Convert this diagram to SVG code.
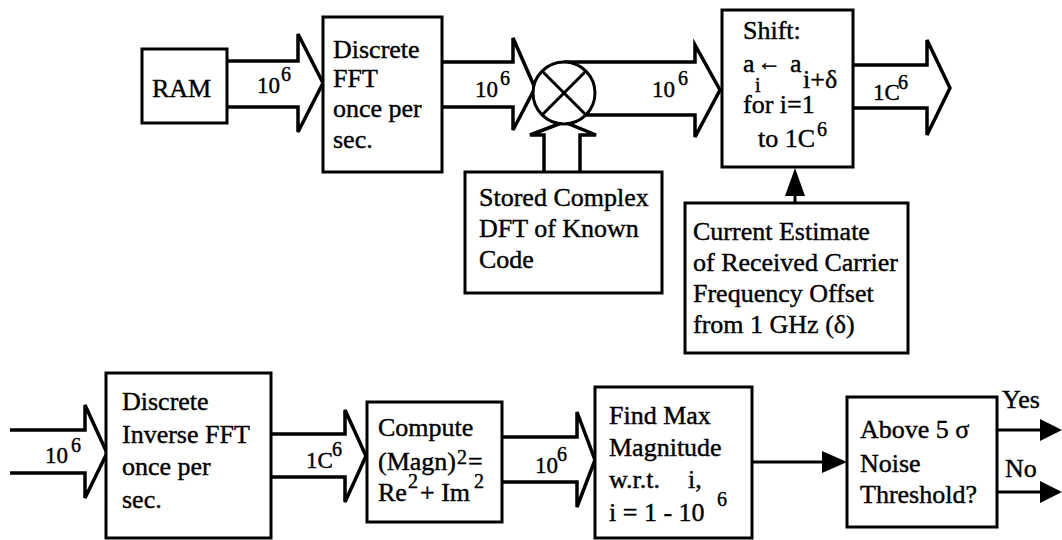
<svg xmlns="http://www.w3.org/2000/svg" width="1062" height="540" viewBox="0 0 1062 540">
<style>
.box{fill:#fff;stroke:#000;stroke-width:3}
.blk{fill:#fff;stroke:#000;stroke-width:3.5;stroke-linejoin:miter}
.ln{fill:none;stroke:#000;stroke-width:3}
.hd{fill:#000;stroke:none}
text{font-family:"Liberation Serif","Times New Roman",serif;font-size:26px;fill:#000;stroke:#000;stroke-width:0.4}
.lbl{font-size:23px}
.sup{font-size:20px}
</style>
<rect width="1062" height="540" fill="#fff"/>
<g id="connectors">
<path class="blk" d="M227,61 H298 V34 L323,83 L298,132 V107 H227"/>
<path class="blk" d="M442,62 H513 V38 L535,88 L513,130 V107 H442"/>
<path class="blk" d="M564,62 H695 V45 L720,90 L695,137 V115 H564"/>
<path class="blk" d="M544,172 V135 H530 L564,122 L596,135 H580 V172"/>
<path class="blk" d="M853,65 H927 V40 L950,88 L927,135 V108 H853"/>
<line class="ln" x1="795" y1="203" x2="795" y2="190"/>
<polygon class="hd" points="785,196 805,196 795,168"/>
<path class="blk" d="M10,430 H85 V405 L107,453 L85,498 V473 H10"/>
<path class="blk" d="M270,434 H345 V410 L366,456 L345,502 V477 H270"/>
<path class="blk" d="M502,437 H577 V412 L595,460 L577,507 V482 H502"/>
<line class="ln" x1="752" y1="462" x2="825" y2="462"/>
<polygon class="hd" points="822,451 822,473 847,462"/>
<line class="ln" x1="997" y1="430" x2="1043" y2="430"/>
<polygon class="hd" points="1040,419 1040,441 1062,430"/>
<line class="ln" x1="997" y1="492" x2="1043" y2="492"/>
<polygon class="hd" points="1040,481 1040,503 1062,492"/>
<text class="lbl" x="257" y="93">10</text><text class="sup" x="281" y="81">6</text>
<text class="lbl" x="475" y="97">10</text><text class="sup" x="500" y="85">6</text>
<text class="lbl" x="652" y="97">10</text><text class="sup" x="678" y="85">6</text>
<text class="lbl" x="873" y="100">1C</text><text class="sup" x="898" y="89">6</text>
<text class="lbl" x="45" y="463">10</text><text class="sup" x="71" y="452">6</text>
<text class="lbl" x="306" y="468">1C</text><text class="sup" x="332" y="456">6</text>
<text class="lbl" x="535" y="473">10</text><text class="sup" x="557" y="461">6</text>
<text x="1002" y="408">Yes</text>
<text x="1005" y="477">No</text>
</g>
<g id="ram">
<rect class="box" x="142" y="49" width="85" height="74"/>
<text x="152" y="97">RAM</text>
</g>
<g id="fft">
<rect class="box" x="323" y="17" width="119" height="155"/>
<text x="333" y="58">Discrete</text>
<text x="333" y="87">FFT</text>
<text x="333" y="117">once per</text>
<text x="333" y="148">sec.</text>
</g>
<g id="multiplier">
<circle class="box" cx="564" cy="93" r="31"/>
<line class="ln" x1="542" y1="71" x2="586" y2="115"/>
<line class="ln" x1="586" y1="71" x2="542" y2="115"/>
</g>
<g id="stored">
<rect class="box" x="465" y="172" width="197" height="121"/>
<text x="479" y="206">Stored Complex</text>
<text x="479" y="237">DFT of Known</text>
<text x="479" y="268">Code</text>
</g>
<g id="shift">
<rect class="box" x="722" y="10" width="131" height="157"/>
<text x="743" y="39">Shift:</text>
<text x="743" y="72">a</text>
<text class="sup" x="755" y="92">i</text>
<text x="757" y="70" style="font-size:24px">←</text>
<text x="790" y="72">a</text>
<text x="803" y="88">i+δ</text>
<text x="743" y="113">for i=1</text>
<text x="758" y="147">to 1C</text>
<text class="sup" x="817" y="136">6</text>
</g>
<g id="estimate">
<rect class="box" x="685" y="203" width="223" height="150"/>
<text x="693" y="240">Current Estimate</text>
<text x="693" y="271">of Received Carrier</text>
<text x="693" y="302">Frequency Offset</text>
<text x="693" y="333">from 1 GHz (δ)</text>
</g>
<g id="ifft">
<rect class="box" x="106" y="373" width="165" height="165"/>
<text x="122" y="410">Discrete</text>
<text x="122" y="443">Inverse FFT</text>
<text x="122" y="475">once per</text>
<text x="122" y="508">sec.</text>
</g>
<g id="compute">
<rect class="box" x="367" y="402" width="135" height="120"/>
<text x="378" y="436">Compute</text>
<text x="378" y="470">(Magn)</text>
<text class="sup" x="457" y="464">2</text>
<text x="468" y="470">=</text>
<text x="378" y="501">Re</text>
<text class="sup" x="408" y="488">2</text>
<text x="420" y="501">+ Im</text>
<text class="sup" x="474" y="488">2</text>
</g>
<g id="findmax">
<rect class="box" x="595" y="387" width="157" height="151"/>
<text x="609" y="424">Find Max</text>
<text x="609" y="456">Magnitude</text>
<text x="609" y="488">w.r.t.</text>
<text x="688" y="488">i,</text>
<text x="609" y="521">i = 1 - 10</text>
<text class="sup" x="717" y="506">6</text>
</g>
<g id="threshold">
<rect class="box" x="847" y="397" width="150" height="130"/>
<text x="860" y="438">Above 5 σ</text>
<text x="860" y="472">Noise</text>
<text x="860" y="503">Threshold?</text>
</g>
</svg>
